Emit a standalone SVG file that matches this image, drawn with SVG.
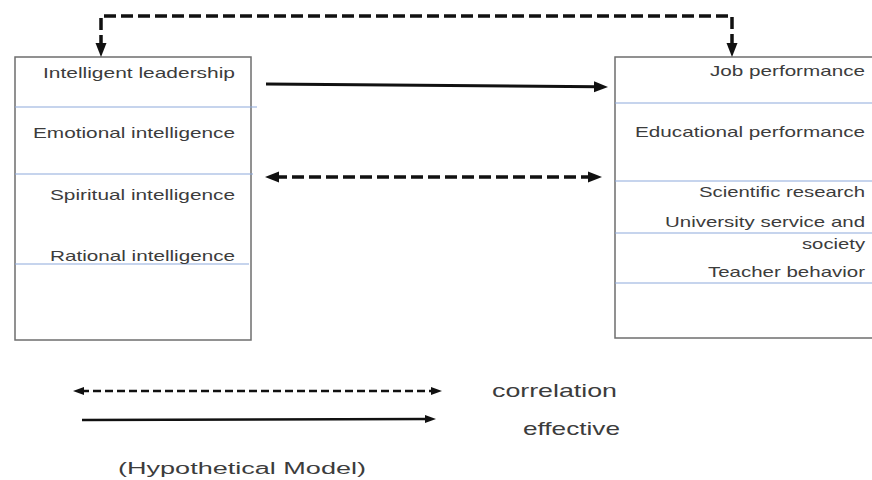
<svg xmlns="http://www.w3.org/2000/svg" width="872" height="480" viewBox="0 0 872 480">
<style>
.bg{fill:#fff}
.box{fill:#fff;stroke:#6e6e6e;stroke-width:1.5}
.sep{stroke:#8eaadb;stroke-width:1.2;fill:none}
.t{font-family:"Liberation Sans",Arial,sans-serif;font-size:15px;fill:#3c3c3c}
.lg{font-family:"Liberation Sans",Arial,sans-serif;font-size:19px;fill:#3c3c3c}
.dash{fill:none;stroke:#111;stroke-width:3.5;stroke-dasharray:12 5}
.solid{fill:none;stroke:#111;stroke-width:3}
.ldash{fill:none;stroke:#111;stroke-width:2.5;stroke-dasharray:8 4}
.lsolid{fill:none;stroke:#111;stroke-width:2.5}
</style>
<defs>
<marker id="ah" markerUnits="userSpaceOnUse" markerWidth="14" markerHeight="12" refX="4" refY="6" orient="auto-start-reverse" viewBox="0 0 14 12">
<path d="M0,0.5 L14,6 L0,11.5 z" fill="#111"/>
</marker>
<marker id="ahs" markerUnits="userSpaceOnUse" markerWidth="11" markerHeight="9" refX="3" refY="4.5" orient="auto-start-reverse" viewBox="0 0 11 9">
<path d="M0,0.5 L11,4.5 L0,8.5 z" fill="#111"/>
</marker>
</defs>
<rect class="bg" x="0" y="0" width="872" height="480"/>

<g id="left-box">
<rect class="box" x="15" y="57" width="236" height="283"/>
<line class="sep" x1="15" y1="107" x2="257" y2="107"/>
<line class="sep" x1="15" y1="174" x2="253" y2="174"/>
<line class="sep" x1="15" y1="264" x2="249" y2="264"/>
<text class="t" x="235" y="78" text-anchor="end" textLength="192" lengthAdjust="spacingAndGlyphs">Intelligent leadership</text>
<text class="t" x="235" y="138" text-anchor="end" textLength="202" lengthAdjust="spacingAndGlyphs">Emotional intelligence</text>
<text class="t" x="235" y="200" text-anchor="end" textLength="185" lengthAdjust="spacingAndGlyphs">Spiritual intelligence</text>
<text class="t" x="235" y="261" text-anchor="end" textLength="185" lengthAdjust="spacingAndGlyphs">Rational intelligence</text>
</g>

<g id="right-box">
<rect class="box" x="615" y="57" width="270" height="281"/>
<line class="sep" x1="615" y1="103" x2="872" y2="103"/>
<line class="sep" x1="615" y1="181" x2="872" y2="181"/>
<line class="sep" x1="615" y1="233" x2="872" y2="233"/>
<line class="sep" x1="615" y1="283" x2="872" y2="283"/>
<text class="t" x="865" y="76" text-anchor="end" textLength="155" lengthAdjust="spacingAndGlyphs">Job performance</text>
<text class="t" x="865" y="137" text-anchor="end" textLength="230" lengthAdjust="spacingAndGlyphs">Educational performance</text>
<text class="t" x="865" y="197" text-anchor="end" textLength="166" lengthAdjust="spacingAndGlyphs">Scientific research</text>
<text class="t" x="865" y="227" text-anchor="end" textLength="200" lengthAdjust="spacingAndGlyphs">University service and</text>
<text class="t" x="865" y="249" text-anchor="end" textLength="63" lengthAdjust="spacingAndGlyphs">society</text>
<text class="t" x="865" y="277" text-anchor="end" textLength="157" lengthAdjust="spacingAndGlyphs">Teacher behavior</text>
</g>

<g id="connectors">
<path class="dash" d="M101,47 V16 H732 V47" marker-start="url(#ah)" marker-end="url(#ah)"/>
<path class="solid" d="M266,84 L598,86.8" marker-end="url(#ah)"/>
<path class="dash" d="M275,177 H592" marker-start="url(#ah)" marker-end="url(#ah)"/>
</g>

<g id="legend">
<path class="ldash" d="M81,391 H434" marker-start="url(#ahs)" marker-end="url(#ahs)"/>
<path class="lsolid" d="M82,420 L428,419" marker-end="url(#ahs)"/>
<text class="lg" x="492" y="397" textLength="125" lengthAdjust="spacingAndGlyphs">correlation</text>
<text class="lg" x="523" y="435" textLength="97" lengthAdjust="spacingAndGlyphs">effective</text>
<text class="t" x="118" y="474" font-size="16" textLength="248" lengthAdjust="spacingAndGlyphs" style="font-size:16px">(Hypothetical Model)</text>
</g>
</svg>
